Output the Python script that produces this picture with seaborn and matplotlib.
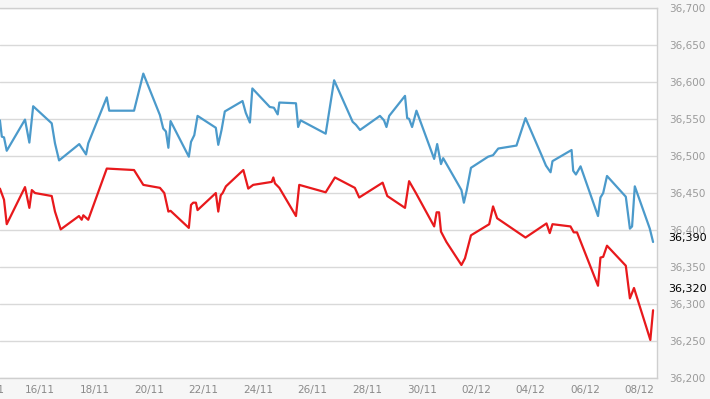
import numpy as np
import pandas as pd
import matplotlib
matplotlib.use("Agg")
import matplotlib.pyplot as plt
import matplotlib.ticker as mticker
import matplotlib.transforms as mtransforms
import seaborn as sns

# start of the visible period; offsets below are in days from here
start_date = "2016-11-14"

blue_days = [0.53, 0.60, 0.68, 0.78, 1.45, 1.61, 1.75, 2.43, 2.55, 2.70,
             3.44, 3.69, 3.77, 4.45, 4.54, 5.45, 5.79, 6.40, 6.52, 6.62,
             6.71, 6.79, 7.46, 7.54, 7.66, 7.78, 8.45, 8.54, 8.66, 8.78,
             9.43, 9.55, 9.70, 9.79, 10.43, 10.58, 10.72, 10.78, 11.39, 11.47,
             11.56, 12.48, 12.79, 13.47, 13.59, 13.74, 14.47, 14.62, 14.71, 14.81,
             15.39, 15.47, 15.54, 15.65, 15.81, 16.46, 16.57, 16.71, 16.79, 17.46,
             17.55, 17.65, 17.81, 18.44, 18.62, 18.81, 19.48, 19.81, 20.40, 20.56,
             20.73, 20.80, 21.50, 21.56, 21.66, 21.83, 22.47, 22.56, 22.66, 22.80,
             23.49, 23.64, 23.72, 23.82, 24.37, 24.49]
blue_vals = [36548, 36526, 36525, 36507, 36549, 36518, 36567, 36544, 36517, 36494,
             36516, 36502, 36517, 36579, 36561, 36561, 36611, 36555, 36537, 36533,
             36511, 36547, 36499, 36519, 36528, 36554, 36538, 36515, 36535, 36560,
             36574, 36558, 36545, 36591, 36566, 36565, 36556, 36572, 36571, 36539,
             36548, 36530, 36602, 36546, 36542, 36535, 36554, 36548, 36539, 36554,
             36581, 36551, 36550, 36539, 36561, 36496, 36516, 36489, 36497, 36454,
             36437, 36453, 36484, 36499, 36501, 36510, 36514, 36551, 36501, 36487,
             36478, 36493, 36508, 36480, 36475, 36486, 36419, 36444, 36450, 36473,
             36445, 36402, 36405, 36459, 36402, 36384]

red_days = [0.53, 0.68, 0.78, 1.45, 1.61, 1.70, 1.82, 2.43, 2.55, 2.76,
            3.43, 3.53, 3.59, 3.77, 4.45, 5.45, 5.79, 6.40, 6.56, 6.71,
            6.79, 7.46, 7.54, 7.62, 7.72, 7.78, 8.45, 8.54, 8.63, 8.70,
            8.82, 9.46, 9.64, 9.82, 10.50, 10.56, 10.62, 10.78, 11.39, 11.51,
            12.48, 12.82, 13.55, 13.71, 14.57, 14.74, 15.39, 15.54, 15.79, 16.46,
            16.55, 16.64, 16.71, 16.91, 17.46, 17.59, 17.81, 18.48, 18.62, 18.77,
            19.81, 20.58, 20.70, 20.80, 21.46, 21.58, 21.70, 22.47, 22.56, 22.66,
            22.80, 23.49, 23.64, 23.79, 24.39, 24.49]
red_vals = [36456, 36441, 36408, 36458, 36430, 36454, 36450, 36446, 36425, 36401,
            36419, 36414, 36420, 36414, 36483, 36481, 36461, 36457, 36450, 36425,
            36426, 36403, 36434, 36437, 36437, 36427, 36450, 36425, 36447, 36450,
            36459, 36481, 36456, 36461, 36465, 36471, 36463, 36457, 36419, 36461,
            36451, 36471, 36457, 36444, 36464, 36446, 36430, 36466, 36450, 36405,
            36424, 36424, 36398, 36384, 36353, 36362, 36393, 36408, 36432, 36416,
            36390, 36409, 36396, 36408, 36405, 36397, 36397, 36325, 36363, 36364,
            36379, 36352, 36308, 36322, 36252, 36292]

# current-value markers on the right axis
last_labels = ["36,390", "36,320"]
last_values = [36390, 36320]

y_ticks = list(range(36200, 36701, 50))
view_days = (0.533, 24.625)

colors = {"blue": "#4b9acb", "red": "#e8191c"}

base = pd.Timestamp(start_date)
df = pd.concat([
    pd.DataFrame({"time": base + pd.to_timedelta(blue_days, unit="D"),
                  "value": blue_vals, "series": "blue"}),
    pd.DataFrame({"time": base + pd.to_timedelta(red_days, unit="D"),
                  "value": red_vals, "series": "red"}),
], ignore_index=True)

sns.set_style("white")
plt.rcParams["font.family"] = ["DejaVu Sans"]

fig = plt.figure(figsize=(7.1, 3.99), dpi=100, facecolor="#f6f6f6")
ax = fig.add_axes([0.0, 0.0514, 0.925, 0.9296])
ax.set_facecolor("white")

sns.lineplot(data=df, x="time", y="value", hue="series", palette=colors,
             estimator=None, linewidth=1.6, legend=False, ax=ax)

# grid
ax.set_yticks(y_ticks)
ax.yaxis.grid(True, color="#d9d9d9", linewidth=1.0)
ax.xaxis.grid(False)
ax.yaxis.tick_right()
ax.yaxis.set_major_formatter(mticker.FuncFormatter(lambda v, p: f"{int(v):,}"))
ax.tick_params(axis="y", length=0, pad=9, labelsize=7.5, labelcolor="#9a9a9a")

x_ticks = pd.date_range(base, base + pd.Timedelta(days=24), freq="2D")
ax.set_xticks(x_ticks)
ax.set_xticklabels([d.strftime("%d/%m") for d in x_ticks])
ax.tick_params(axis="x", length=3, color="#d0d0d0", pad=2, labelsize=7.5,
               labelcolor="#8a8a8a")

# limits after the ticks, set_xticks would widen them otherwise
ax.set_xlim(base + pd.Timedelta(days=view_days[0]),
            base + pd.Timedelta(days=view_days[1]))
ax.set_ylim(y_ticks[0], y_ticks[-1])

# first date sits just outside the view, only its tail shows
ax.annotate(x_ticks[0].strftime("%d/%m"), xy=(x_ticks[0], 0),
            xycoords=("data", "axes fraction"), xytext=(3, -5),
            textcoords="offset points", ha="center", va="top",
            fontsize=7.5, color="#8a8a8a", annotation_clip=False)

for lbl, val in zip(last_labels, last_values):
    ax.annotate(lbl, xy=(1, val), xycoords=("axes fraction", "data"),
                xytext=(8, 0), textcoords="offset points",
                ha="left", va="center", fontsize=8, color="black")

ax.set_xlabel("")
ax.set_ylabel("")
ax.spines["left"].set_visible(False)
for side in ["top", "right", "bottom"]:
    ax.spines[side].set_color("#cfcfcf")
    ax.spines[side].set_linewidth(1.0)

fig.savefig("out.png", dpi=100, facecolor=fig.get_facecolor())
